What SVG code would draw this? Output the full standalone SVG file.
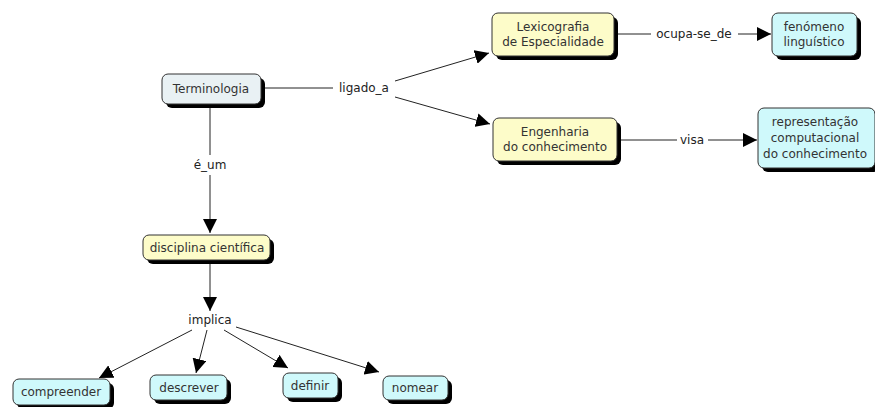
<svg xmlns="http://www.w3.org/2000/svg" width="875" height="407" viewBox="0 0 875 407">
  <defs>
    <marker id="arrow" viewBox="0 0 10 10" refX="10" refY="5" markerWidth="14" markerHeight="14" markerUnits="userSpaceOnUse" orient="auto">
      <path d="M0,0 L10,5 L0,10 z" fill="#000"/>
    </marker>
  </defs>
  <style>
    text { font-family: "DejaVu Sans", Verdana, sans-serif; font-size: 12px; fill: #333; text-anchor: middle; }
    .shadow { fill: #000; }
    .box { stroke: #333; stroke-width: 1; }
    .grey { fill: #e9f1f4; }
    .yellow { fill: #fdfcc9; }
    .cyan { fill: #cff9fb; }
    .link { stroke: #222; stroke-width: 1; fill: none; }
    .arr { marker-end: url(#arrow); }
    .lbl { fill: #222; }
  </style>
  <rect width="875" height="407" fill="#fff"/>

  <g id="connectors">
    <!-- Terminologia -> ligado_a -->
    <line class="link" x1="261" y1="88" x2="333" y2="88"/>
    <text class="lbl" x="364" y="92">ligado_a</text>
    <line class="link arr" x1="395" y1="81" x2="489" y2="53"/>
    <line class="link arr" x1="395" y1="97" x2="490" y2="124"/>
    <!-- Lexicografia -> fenómeno -->
    <line class="link" x1="614" y1="34" x2="651" y2="34"/>
    <text class="lbl" x="694" y="38">ocupa-se_de</text>
    <line class="link arr" x1="738" y1="34" x2="771" y2="34"/>
    <!-- Engenharia -> representação -->
    <line class="link" x1="618" y1="140" x2="677" y2="140"/>
    <text class="lbl" x="692" y="144">visa</text>
    <line class="link arr" x1="708" y1="140" x2="757" y2="140"/>
    <!-- Terminologia -> disciplina -->
    <line class="link" x1="210" y1="104" x2="210" y2="155"/>
    <text class="lbl" x="210" y="169">é_um</text>
    <line class="link arr" x1="210" y1="175" x2="210" y2="233"/>
    <!-- disciplina -> implica -->
    <line class="link arr" x1="210" y1="261" x2="210" y2="311"/>
    <text class="lbl" x="210" y="324">implica</text>
    <line class="link arr" x1="192" y1="330" x2="99" y2="378"/>
    <line class="link arr" x1="207" y1="330" x2="196" y2="373"/>
    <line class="link arr" x1="224" y1="330" x2="288" y2="368"/>
    <line class="link arr" x1="236" y1="327" x2="379" y2="372"/>
  </g>

  <g id="terminologia">
    <rect class="shadow" x="166" y="78" width="99" height="30" rx="6"/>
    <rect class="box grey" x="162" y="74" width="99" height="30" rx="6"/>
    <text x="211" y="93">Terminologia</text>
  </g>

  <g id="lexicografia">
    <rect class="shadow" x="496" y="17" width="122" height="43" rx="6"/>
    <rect class="box yellow" x="492" y="13" width="122" height="43" rx="6"/>
    <text x="553" y="31">Lexicografia</text>
    <text x="553" y="46">de Especialidade</text>
  </g>

  <g id="fenomeno">
    <rect class="shadow" x="776" y="17" width="85" height="43" rx="6"/>
    <rect class="box cyan" x="772" y="13" width="85" height="43" rx="6"/>
    <text x="814" y="31">fenómeno</text>
    <text x="814" y="46">linguístico</text>
  </g>

  <g id="engenharia">
    <rect class="shadow" x="497" y="122" width="124" height="43" rx="6"/>
    <rect class="box yellow" x="493" y="118" width="124" height="43" rx="6"/>
    <text x="555" y="136">Engenharia</text>
    <text x="555" y="151">do conhecimento</text>
  </g>

  <g id="representacao">
    <rect class="shadow" x="762" y="112" width="117" height="60" rx="6"/>
    <rect class="box cyan" x="758" y="108" width="117" height="60" rx="6"/>
    <text x="815" y="126">representação</text>
    <text x="815" y="142">computacional</text>
    <text x="815" y="158">do conhecimento</text>
  </g>

  <g id="disciplina">
    <rect class="shadow" x="147" y="239" width="127" height="25" rx="6"/>
    <rect class="box yellow" x="143" y="235" width="127" height="25" rx="6"/>
    <text x="207" y="252">disciplina científica</text>
  </g>

  <g id="compreender">
    <rect class="shadow" x="17" y="383" width="97" height="26" rx="6"/>
    <rect class="box cyan" x="13" y="379" width="97" height="26" rx="6"/>
    <text x="61" y="396">compreender</text>
  </g>

  <g id="descrever">
    <rect class="shadow" x="154" y="379" width="77" height="25" rx="6"/>
    <rect class="box cyan" x="150" y="375" width="77" height="25" rx="6"/>
    <text x="189" y="392">descrever</text>
  </g>

  <g id="definir">
    <rect class="shadow" x="287" y="377" width="55" height="25" rx="6"/>
    <rect class="box cyan" x="283" y="373" width="55" height="25" rx="6"/>
    <text x="310" y="390">definir</text>
  </g>

  <g id="nomear">
    <rect class="shadow" x="387" y="380" width="65" height="24" rx="6"/>
    <rect class="box cyan" x="383" y="376" width="65" height="24" rx="6"/>
    <text x="415" y="392">nomear</text>
  </g>
</svg>
